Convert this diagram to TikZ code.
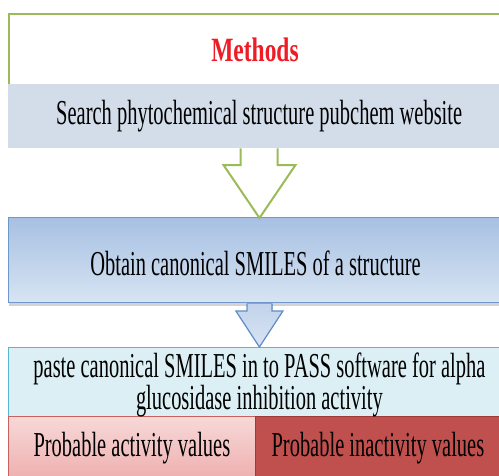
\documentclass[tikz,border=0pt]{standalone}
\usepackage{fontspec}
\setmainfont{Liberation Serif}[FakeStretch=0.585]
\newfontfamily\titlefont{Liberation Serif}[FakeStretch=0.69]
\usepackage{tikz}
\usetikzlibrary{calc,shadows}

\definecolor{frameGreen}{HTML}{9BBB59}
\definecolor{titleRed}{HTML}{EE1C25}
\definecolor{searchFill}{HTML}{D3DCE9}
\definecolor{obtainTop}{HTML}{A7C0E2}
\definecolor{obtainBot}{HTML}{D7E4F3}
\definecolor{obtainLine}{HTML}{6E97CE}
\definecolor{passFill}{HTML}{DBEFF5}
\definecolor{passLine}{HTML}{5BB5CF}
\definecolor{actTop}{HTML}{F8D8D8}
\definecolor{actBot}{HTML}{EDAFAE}
\definecolor{actLine}{HTML}{C9625F}
\definecolor{inactFill}{HTML}{C0504D}
\definecolor{inactLine}{HTML}{9E3B38}
\definecolor{arrowBlue}{HTML}{5F8CC8}

\begin{document}
\begin{tikzpicture}[
		x=1pt, y=-1pt,
		every node/.style={rectangle, inner sep=0pt, anchor=north west,
			font=\fontsize{35}{28}\selectfont},
		box/.style={minimum width=502pt},
		txt/.style={anchor=center, align=center}
	]
  \useasboundingbox (0,0) rectangle (499,475);
  \clip (0,0) rectangle (499,475);
  % outer frame
  \draw [frameGreen, line width=2pt] (8.5,84) -- (8.5,13.5) -- (520,13.5);
  \node (title) [txt, font=\titlefont\fontsize{34}{34}\selectfont\bfseries,
    text=titleRed] at (255,50) {Methods};
  % steps
  \node (search) [box, minimum height=64pt, fill=searchFill] at (8,84) {};
  \node (obtain) [box, minimum height=85pt, top color=obtainTop,
    bottom color=obtainBot, draw=obtainLine, line width=1pt,
    drop shadow={shadow xshift=0pt, shadow yshift=-3pt, opacity=0.35}] at (8,217) {};
  \node (pass) [box, minimum height=69pt, fill=passFill, draw=passLine,
    line width=0.8pt] at (8,347) {};
  \node (act) [minimum width=247pt, minimum height=64pt, top color=actTop,
    bottom color=actBot, draw=actLine, line width=0.8pt] at (8,416) {};
  \node (inact) [minimum width=255pt, minimum height=64pt, fill=inactFill,
    draw=inactLine, line width=0.8pt] at (255,416) {};
  % texts
  \node (searchtxt) [txt] at ($(search.center)+(0,0)$)
    {Search phytochemical structure pubchem website};
  \node (obtaintxt) [txt] at ($(obtain.center)+(-4,3)$)
    {Obtain canonical SMILES of a structure};
  \node (passtxt) [txt] at ($(pass.center)+(0,3)$)
    {paste canonical SMILES in to PASS software for alpha\\
     glucosidase inhibition activity};
  \node (acttxt) [txt] at ($(act.north)+(0,32)$) {Probable activity values};
  \node (inacttxt) [txt] at ($(inact.north)+(-5,32)$) {Probable inactivity values};
  % arrows
  \filldraw [draw=frameGreen, fill=white, line width=2pt, line join=miter]
    ($(search.south)+(-18.5,0)$) |- ($(obtain.north)+(-36,-52)$)
    -- ($(obtain.north)+(0,1)$) -- ($(obtain.north)+(36,-52)$)
    -| ($(search.south)+(18.5,0)$);
  \filldraw [draw=arrowBlue, top color=obtainTop!70, bottom color=obtainBot,
    line width=1.2pt, line join=miter]
    ($(obtain.south)+(-12.5,0.5)$) |- ($(pass.north)+(-23.5,-36)$)
    -- (pass.north) -- ($(pass.north)+(23.5,-36)$)
    -| ($(obtain.south)+(12.5,0.5)$);
\end{tikzpicture}
\end{document}
